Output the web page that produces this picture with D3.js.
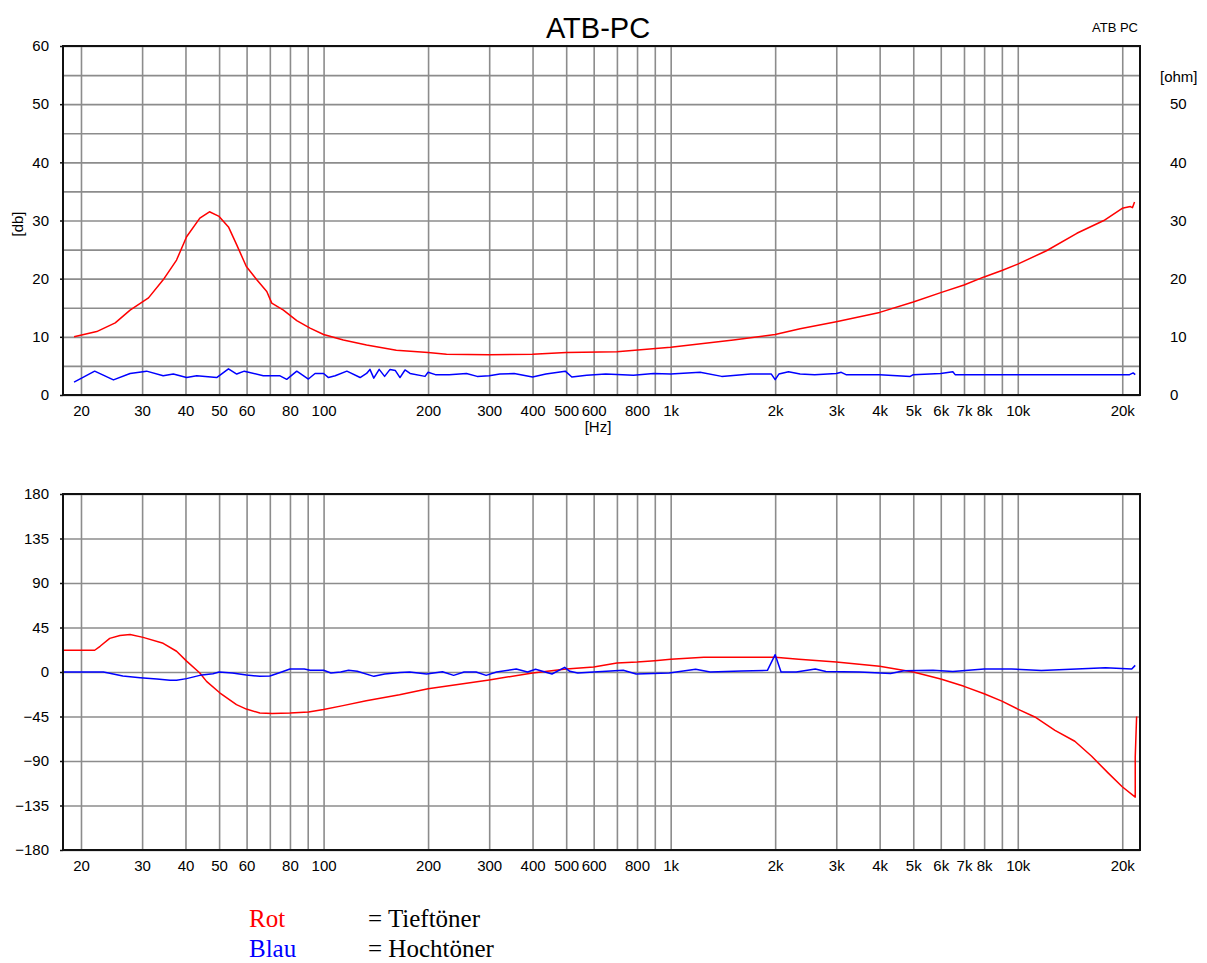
<!DOCTYPE html>
<html>
<head>
<meta charset="utf-8">
<script src="https://cdnjs.cloudflare.com/ajax/libs/d3/7.8.5/d3.min.js"></script>
<style>
  html, body { margin: 0; padding: 0; background: #fff; }
  svg { display: block; }
  .lbl { font-family: Arial, "Liberation Sans", sans-serif; font-size: 15px; fill: #000; }
</style>
</head>
<body>
<svg id="chart" width="1207" height="963"></svg>
<script>
// ---------------- DATA ----------------
const titleText = "ATB-PC";
const cornerText = "ATB PC";

// Top chart: impedance (red = Tieftöner, blue = Hochtöner)
const impFreqRed = [19.1, 22.2, 25.1, 27.7, 31.3, 34.5, 37.7, 40.3, 44.0, 46.9, 50, 53.2, 56.2, 59.9, 64.2, 68.6, 70.9, 76.6, 83.7, 91.4, 100, 114, 133, 162, 200, 226, 300, 400, 500, 700, 1000, 1516, 2000, 2360, 3000, 4000, 5000, 6000, 7000, 8000, 9000, 10000, 12100, 14800, 17700, 20000, 21100, 21400, 21700];
const impRed = [10.0, 10.9, 12.4, 14.6, 16.7, 19.8, 23.2, 27.2, 30.4, 31.5, 30.7, 28.9, 25.8, 22.1, 19.8, 17.8, 15.8, 14.6, 12.8, 11.5, 10.4, 9.45, 8.6, 7.7, 7.3, 7.0, 6.9, 7.0, 7.3, 7.45, 8.2, 9.45, 10.4, 11.4, 12.6, 14.2, 16.0, 17.6, 18.9, 20.3, 21.4, 22.5, 24.8, 27.8, 30.0, 32.1, 32.4, 32.2, 33.2];

const impFreqBlue = [19.1, 21.9, 24.8, 27.7, 30.9, 34.5, 36.9, 40.3, 43.1, 49.2, 53.2, 56.2, 59.1, 67, 74.9, 78.3, 83.7, 90.4, 94.5, 100, 103.3, 108, 116.7, 127.4, 133, 136, 139.5, 144.6, 149.9, 155.4, 161, 166, 171.6, 177.5, 196, 200, 210, 230, 258, 277, 300, 322, 354, 400, 437, 497, 519, 573, 650, 781, 893, 1000, 1216, 1403, 1700, 1950, 2000, 2050, 2185, 2360, 2600, 3000, 3100, 3200, 4000, 4900, 5000, 6000, 6500, 6600, 10000, 21000, 21500, 21800];
const impBlue = [2.2, 4.1, 2.6, 3.7, 4.1, 3.3, 3.6, 3.0, 3.3, 3.0, 4.5, 3.6, 4.1, 3.3, 3.3, 2.7, 4.1, 2.75, 3.7, 3.7, 3.0, 3.3, 4.1, 3.0, 3.7, 4.4, 2.9, 4.4, 3.2, 4.4, 4.2, 3.0, 4.3, 3.7, 3.2, 3.9, 3.5, 3.5, 3.7, 3.2, 3.3, 3.6, 3.7, 3.1, 3.6, 4.1, 3.1, 3.4, 3.6, 3.4, 3.7, 3.6, 3.9, 3.2, 3.6, 3.6, 2.65, 3.6, 4.0, 3.6, 3.5, 3.7, 3.9, 3.5, 3.5, 3.2, 3.5, 3.7, 4.0, 3.5, 3.5, 3.5, 3.8, 3.5];

// Bottom chart: phase in degrees
const phFreqRed = [17.8, 21.9, 22.7, 24.2, 25.9, 27.7, 30.2, 34.5, 37.7, 40.3, 44.0, 46.0, 50.2, 56.1, 59.9, 65.5, 71.2, 80, 90.5, 100, 113.7, 132.7, 165.5, 200, 300, 400, 500, 600, 700, 800, 900, 1000, 1246, 2000, 2340, 3000, 4000, 5000, 6000, 7000, 8000, 9000, 10000, 11200, 12800, 14600, 16300, 18200, 20000, 21800, 21800, 22000];
const phRed = [22, 22, 26, 34, 37, 38, 35, 29, 21, 11, -1, -9.5, -21, -33, -37.5, -41.5, -42, -41.5, -40.5, -38, -34, -29, -23, -17, -8, -1, 3, 5, 9, 10, 11.5, 13, 14.8, 14.8, 13, 10, 5.7, 0, -7, -14.5, -22, -29.5, -37.5, -45.5, -59, -70, -85, -102, -116, -126.5, -86, -45];

const phFreqBlue = [17.8, 23.2, 24, 26.4, 29.6, 33.1, 36.1, 37.7, 40.3, 44, 48, 50, 54.6, 59.9, 65.5, 70, 75, 80, 88, 91.5, 100, 105, 112, 118, 125, 139.6, 150, 166, 177, 198, 220, 237, 254, 275, 294, 315, 359, 387, 408, 455, 495, 512, 540, 600, 730, 795, 990, 1180, 1300, 1600, 1900, 2000, 2080, 2300, 2610, 2800, 3500, 4300, 4700, 5700, 6500, 8000, 9600, 11700, 17900, 21300, 21800];
const phBlue = [0, 0, -1, -4, -5.7, -7, -8.4, -8.4, -6.7, -3.4, -1.7, 0, -1, -3, -4.4, -4, -0.5, 3, 3, 1.7, 1.7, -1, 0, 1.7, 0.7, -4.4, -2, -0.5, 0, -2, 0.3, -3.4, 0, 0, -3.4, 0, 3, 0, 2.7, -2, 4.7, 0.7, -1, 0, 1.7, -2, -1, 2.7, 0, 1, 1.7, 17.5, 0, 0, 3, 0.5, 0, -1.5, 1.3, 1.7, 0.5, 3, 3, 1.5, 4.4, 3, 6.7];

// Axes ticks
const freqGrid = [20,30,40,50,60,70,80,90,100,200,300,400,500,600,700,800,900,1000,2000,3000,4000,5000,6000,7000,8000,9000,10000,20000];
const freqLabels = [20,30,40,50,60,80,100,200,300,400,500,600,800,1000,2000,3000,4000,5000,6000,7000,8000,10000,20000];
const dbGrid = [0,5,10,15,20,25,30,35,40,45,50,55,60];
const dbLabels = [0,10,20,30,40,50,60];
const ohmLabels = [0,10,20,30,40,50];
const phaseTicks = [-180,-135,-90,-45,0,45,90,135,180];

const legendNames = ["Rot", "Blau"];
const legendTexts = ["= Tieftöner", "= Hochtöner"];
const seriesColors = ["#ff0000", "#0000ff"];

// ---------------- DRAW ----------------
const svg = d3.select("#chart");
const L = 63, R = 1140;
const top1 = { t: 46, b: 395 };
const bot1 = { t: 494, b: 850 };

const fDomain = [17.75, 22500];
const xTop = d3.scaleLog().domain(fDomain).range([L, R]);
const xBot = d3.scaleLog().domain(fDomain).range([L, R]);
const yTop = d3.scaleLinear().domain([0, 60]).range([top1.b, top1.t]);
const yBot = d3.scaleLinear().domain([-180, 180]).range([bot1.b, bot1.t]);

const fmtF = f => f >= 1000 ? (f / 1000) + "k" : String(f);
const gridColor = "#8c8c8c";

function drawPanel(x, y, box, yGrid) {
  const g = svg.append("g");
  g.append("g").attr("transform", `translate(0,${box.b})`)
    .call(d3.axisBottom(x).tickValues(freqGrid).tickSize(-(box.b - box.t)).tickFormat(""))
    .call(s => s.select(".domain").remove())
    .call(s => s.selectAll("line").attr("stroke", gridColor).attr("stroke-width", 1.6));
  g.append("g").attr("transform", `translate(${L},0)`)
    .call(d3.axisLeft(y).tickValues(yGrid).tickSize(-(R - L)).tickFormat(""))
    .call(s => s.select(".domain").remove())
    .call(s => s.selectAll("line").attr("stroke", gridColor).attr("stroke-width", 1.6));
  return g;
}

function frame(box) {
  svg.append("rect").attr("x", L).attr("y", box.t).attr("width", R - L).attr("height", box.b - box.t)
    .attr("fill", "none").attr("stroke", "#111").attr("stroke-width", 2);
}

function xLabels(x, box) {
  svg.append("g").attr("transform", `translate(0,${box.b})`)
    .call(d3.axisBottom(x).tickValues(freqLabels).tickSize(0).tickPadding(10).tickFormat(fmtF))
    .call(s => s.select(".domain").remove())
    .call(s => s.selectAll("text").attr("class", "lbl").attr("font-family", null).attr("font-size", null));
}

function curve(x, y, fs, vs, color) {
  const pts = fs.map((f, i) => [f, vs[i]]);
  svg.append("path").datum(pts)
    .attr("fill", "none").attr("stroke", color).attr("stroke-width", 1.5)
    .attr("stroke-linejoin", "round")
    .attr("d", d3.line().x(d => x(d[0])).y(d => y(d[1])));
}

// ---- Top panel ----
drawPanel(xTop, yTop, top1, dbGrid);
curve(xTop, yTop, impFreqRed, impRed, seriesColors[0]);
curve(xTop, yTop, impFreqBlue, impBlue, seriesColors[1]);
frame(top1);
xLabels(xTop, top1);
svg.append("g").attr("transform", `translate(${L},0)`)
  .call(d3.axisLeft(yTop).tickValues(dbLabels).tickSize(3).tickPadding(11))
  .call(s => s.select(".domain").remove())
  .call(s => s.selectAll("line").attr("stroke", "#111").attr("stroke-width", 1.5))
  .call(s => s.selectAll("text").attr("class", "lbl").attr("font-family", null).attr("font-size", null));
svg.append("g").attr("transform", `translate(${R},0)`)
  .call(d3.axisRight(yTop).tickValues(ohmLabels).tickSize(0).tickPadding(30))
  .call(s => s.select(".domain").remove())
  .call(s => s.selectAll("text").attr("class", "lbl").attr("font-family", null).attr("font-size", null));

svg.append("text").attr("class", "lbl").attr("x", 1160).attr("y", 82).text("[ohm]");
svg.append("text").attr("class", "lbl").attr("transform", "translate(23,224) rotate(-90)")
  .attr("text-anchor", "middle").text("[db]");
svg.append("text").attr("class", "lbl").attr("x", 598).attr("y", 432).attr("text-anchor", "middle").text("[Hz]");

svg.append("text").attr("x", 598).attr("y", 38).attr("text-anchor", "middle")
  .attr("font-family", "Arial, 'Liberation Sans', sans-serif").attr("font-size", 29).text(titleText);
svg.append("text").attr("x", 1138).attr("y", 32).attr("text-anchor", "end")
  .attr("font-family", "Arial, 'Liberation Sans', sans-serif").attr("font-size", 13).text(cornerText);

// ---- Bottom panel ----
drawPanel(xBot, yBot, bot1, phaseTicks);
curve(xBot, yBot, phFreqRed, phRed, seriesColors[0]);
curve(xBot, yBot, phFreqBlue, phBlue, seriesColors[1]);
frame(bot1);
xLabels(xBot, bot1);
svg.append("g").attr("transform", `translate(${L},0)`)
  .call(d3.axisLeft(yBot).tickValues(phaseTicks).tickSize(3).tickPadding(11))
  .call(s => s.select(".domain").remove())
  .call(s => s.selectAll("line").attr("stroke", "#111").attr("stroke-width", 1.5))
  .call(s => s.selectAll("text").attr("class", "lbl").attr("font-family", null).attr("font-size", null));

// ---- Legend ----
const lg = svg.append("g");
legendNames.forEach((n, i) => {
  const yb = 927 + i * 30;
  lg.append("text").attr("x", 249).attr("y", yb).attr("fill", seriesColors[i])
    .attr("font-family", "'Liberation Serif', 'Times New Roman', serif").attr("font-size", 25).text(n);
  lg.append("text").attr("x", 368).attr("y", yb).attr("fill", "#000")
    .attr("font-family", "'Liberation Serif', 'Times New Roman', serif").attr("font-size", 25).text(legendTexts[i]);
});
</script>
</body>
</html>
